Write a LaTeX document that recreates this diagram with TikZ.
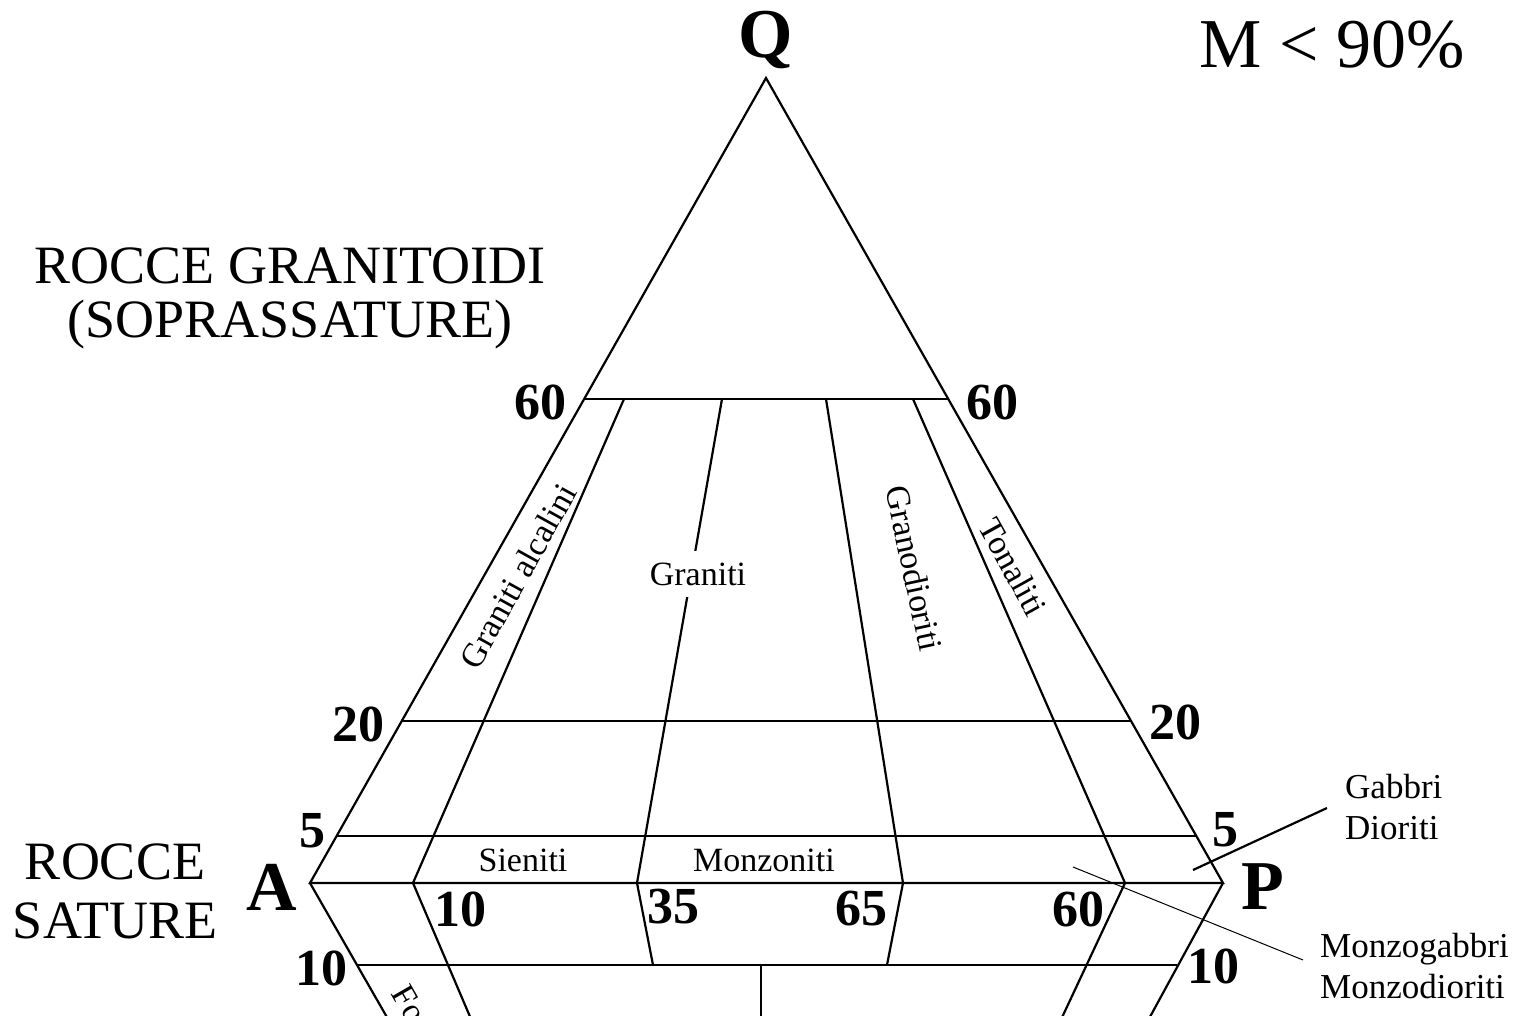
\documentclass[tikz,border=0pt]{standalone}
\usepackage{fontspec}
\setmainfont{Liberation Serif}
\begin{document}
\begin{tikzpicture}[x=1pt,y=-1pt,
  ln/.style={line width=2.2pt,line join=miter},
  thin/.style={line width=1pt},
  big/.style={font=\fontsize{70}{70}\selectfont\bfseries,inner sep=0pt},
  num/.style={font=\fontsize{52}{52}\selectfont\bfseries,inner sep=0pt},
  title/.style={font=\fontsize{54}{54}\selectfont,inner sep=0pt},
  lab/.style={font=\fontsize{34}{34}\selectfont,inner sep=0pt},
  rlab/.style={font=\fontsize{35}{41}\selectfont,inner sep=0pt,align=left}]
\useasboundingbox (0,0) rectangle (1519,1016);
\clip (0,0) rectangle (1519,1016);
% vertices
\coordinate (Q) at (766,78);
\coordinate (A) at (310,883);
\coordinate (P) at (1223,883);
\coordinate (L60) at (584,399);
\coordinate (R60) at (948,399);
\coordinate (L20) at (402,721);
\coordinate (R20) at (1131,721);
\coordinate (L5) at (337,836);
\coordinate (R5) at (1197,836);
\coordinate (L10) at (357,965);
\coordinate (R10) at (1177,965);
\coordinate (LB) at (392,1026);
\coordinate (RB) at (1145,1026);
% field lines upper
\coordinate (t10) at (624,399);
\coordinate (b10) at (413,883);
\coordinate (t35) at (722,399);
\coordinate (b35) at (637,883);
\coordinate (t65) at (826,399);
\coordinate (b65) at (903,883);
\coordinate (t90) at (913,399);
\coordinate (b90) at (1125,883);
% lower lines
\coordinate (d10) at (474,1026);
\coordinate (d35) at (653,965);
\coordinate (d65) at (887,965);
\coordinate (d90) at (1058,1026);
\coordinate (vt) at (761,965);
\coordinate (vb) at (761,1026);
% leaders
\coordinate (g1) at (1193,870);
\coordinate (g2) at (1327,808);
\coordinate (m1) at (1073,867);
\coordinate (m2) at (1303,960);

% triangle and horizontal lines
\draw[ln] (A) -- (Q) -- (P) -- cycle;
\draw[ln] (L60) -- (R60);
\draw[ln] (L20) -- (R20);
\draw[ln] (L5) -- (R5);
\draw[ln] (L10) -- (R10);
\draw[ln] (A) -- (LB);
\draw[ln] (P) -- (RB);
% field boundaries
\draw[ln] (t10) -- (b10) -- (d10);
\draw[ln] (t35) -- (b35) -- (d35);
\draw[ln] (t65) -- (b65) -- (d65);
\draw[ln] (t90) -- (b90) -- (d90);
\draw[ln] (vt) -- (vb);
% leaders
\draw[ln] (g1) -- (g2);
\draw[thin] (m1) -- (m2);

% labels
\node[big] (lQ) at (766,40) {Q};
\node[big] (lA) at (272,887) {A};
\node[big] (lP) at (1263,887) {P};
\node[font=\fontsize{70}{70}\selectfont,inner sep=0pt] (lM) at (1332,45) {M < 90\%};
\node[title] (t1) at (290,266) {ROCCE GRANITOIDI};
\node[title] (t2) at (290,325) {(SOPRASSATURE)};
\node[title] (t3) at (115,862) {ROCCE};
\node[title] (t4) at (115,921) {SATURE};

\node[num] (n1) at (540,402) {60};
\node[num] (n2) at (992,402) {60};
\node[num] (n3) at (358,724) {20};
\node[num] (n4) at (1175,722) {20};
\node[num] (n5) at (312,831) {5};
\node[num] (n6) at (1225,830) {5};
\node[num] (n7) at (460,909) {10};
\node[num] (n8) at (673,907) {35};
\node[num] (n9) at (861,909) {65};
\node[num] (n10) at (1078,909) {60};
\node[num] (n11) at (321,968) {10};
\node[num] (n12) at (1213,966) {10};

\node[lab] (s1) at (523,860) {Sieniti};
\node[lab] (s2) at (764,860) {Monzoniti};
\node[lab,fill=white,inner xsep=4pt,inner ysep=12pt] (s3) at (698,574) {Graniti};
\node[lab,rotate=61] (s4) at (518,576) {Graniti alcalini};
\node[lab,rotate=-78] (s5) at (914,568) {Granodioriti};
\node[lab,rotate=-61] (s6) at (1013,567) {Tonaliti};
\node[lab,rotate=-60,anchor=west] (s7) at (400,988) {Fo};
\node[rlab,anchor=west] (r1) at (1345,807) {Gabbri\\Dioriti};
\node[rlab,anchor=west] (r2) at (1320,966) {Monzogabbri\\Monzodioriti};
\end{tikzpicture}
\end{document}
